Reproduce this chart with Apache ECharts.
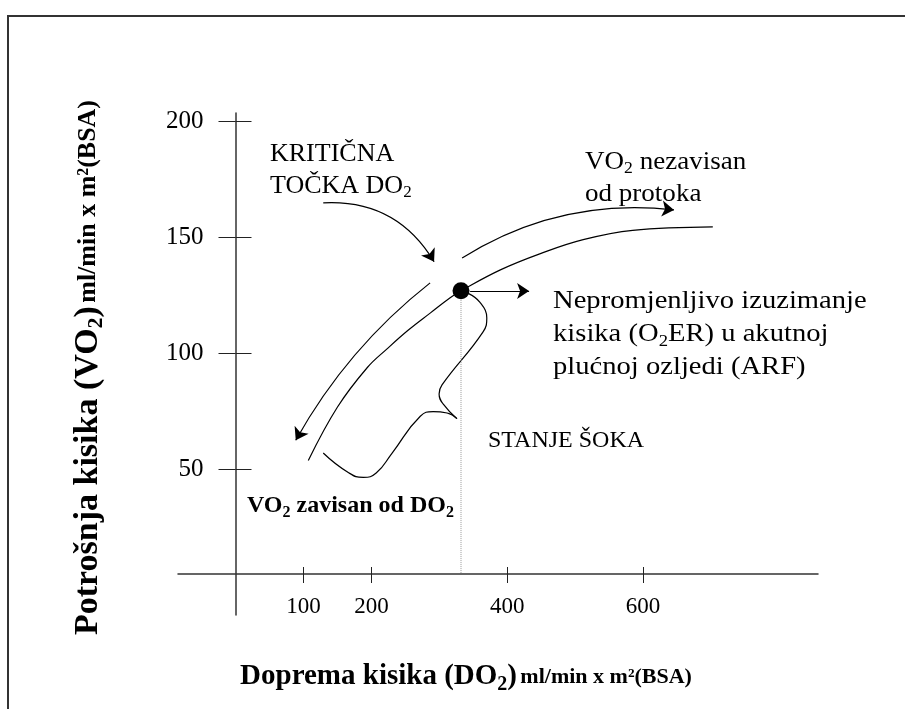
<!DOCTYPE html>
<html>
<head>
<meta charset="utf-8">
<title>Potrošnja i doprema kisika</title>
<script src="https://cdn.jsdelivr.net/npm/echarts@6/dist/echarts.min.js"></script>
<style>
  html, body { margin: 0; padding: 0; background: #fff; }
  #chart { width: 905px; height: 709px; }
</style>
</head>
<body>
<div id="chart"></div>
<script>
// VO2 / DO2 curve
const curveDO2 = [107, 150, 194, 223, 254, 287, 316, 332, 390, 449, 512, 585, 703];
const curveVO2 = [54, 77, 94, 102, 110, 117.5, 124, 127, 136, 143, 149, 153, 154.5];

// critical point (O2ER)
const criticalDO2 = 332;
const criticalVO2 = 127;
const dropVO2 = [123, 5.2];

// "stanje šoka" brace, two halves meeting at the tip
const braceUpperDO2 = [342, 360, 370, 364.5, 304, 299.7, 305.6, 326];
const braceUpperVO2 = [126, 122, 115.3, 109.3, 86.5, 82.6, 78.3, 72];
const braceLowerDO2 = [326, 311.5, 291, 272, 230.5, 207, 188, 167, 129];
const braceLowerVO2 = [72, 74.4, 75, 73, 57.2, 48.6, 46.7, 48.6, 57.2];

// arrows: kritična točka, nezavisan, zavisan, O2ER
const arrowFromDO2 = [129, 333.6, 286.5, 345.4];
const arrowFromVO2 = [164.8, 141.1, 130.4, 126.9];
const arrowToDO2 = [292.3, 645.8, 88.5, 432.3];
const arrowToVO2 = [139.5, 161.8, 62.7, 126.9];
const arrowBend = [0.3, 0.175, -0.1, 0];

// ticks
const xTicks = [100, 200, 400, 600];
const yTicks = [50, 100, 150, 200];

const serif = "'Liberation Serif', 'Times New Roman', serif";

function zip(xs, ys) {
  return xs.map((x, i) => [x, ys[i]]);
}

// rich text token for echarts labels
function tok(size, weight, extra) {
  return Object.assign({ fontFamily: serif, fontSize: size, fontWeight: weight || 'normal', color: '#000' }, extra || {});
}
// rich text token for graphic (zrender) texts
function gtok(size, weight, extra) {
  return Object.assign({ fontFamily: serif, fontSize: size, fontWeight: weight || 'normal', fill: '#000' }, extra || {});
}

const chart = echarts.init(document.getElementById('chart'));

const lineStyle = { color: '#000', width: 1.2 };

const option = {
  animation: false,
  backgroundColor: '#fff',
  grid: { left: 178, right: 87, top: 113, bottom: 94 },
  xAxis: [
    {
      type: 'value',
      min: -85,
      max: 858,
      offset: -41,
      splitLine: { show: false },
      axisLine: { onZero: false, lineStyle: { color: '#333', width: 1.5 } },
      axisTick: { customValues: xTicks, length: 9, lineStyle: { color: '#222' } },
      axisLabel: { customValues: xTicks, margin: 21, fontFamily: serif, fontSize: 23, color: '#000' },
      name: '{b|Doprema kisika (DO}{bs|2}{b|)} {m|ml/min x m²(BSA)}',
      nameLocation: 'middle',
      nameGap: 85,
      nameTextStyle: {
        padding: [0, 64, 0, 0],
        rich: {
          b: tok(29, 'bold'),
          bs: tok(20, 'bold', { padding: [16, 0, 0, 0] }),
          m: tok(22, 'bold')
        }
      }
    },
    {
      type: 'value',
      min: -85,
      max: 858,
      offset: -41,
      position: 'bottom',
      splitLine: { show: false },
      axisLine: { show: false, onZero: false },
      axisTick: { customValues: xTicks, inside: true, length: 7, lineStyle: { color: '#222' } },
      axisLabel: { show: false }
    }
  ],
  yAxis: [
    {
      type: 'value',
      min: -12.5,
      max: 203.5,
      offset: -57.5,
      position: 'left',
      splitLine: { show: false },
      axisLine: { show: true, onZero: false, lineStyle: { color: '#333', width: 1.5 } },
      axisTick: { customValues: yTicks, length: 17, lineStyle: { color: '#222' } },
      axisLabel: { customValues: yTicks, margin: 32, fontFamily: serif, fontSize: 25, color: '#000' },
      name: '{b|Potrošnja kisika (VO}{bs|2}{b|)} {m|ml/min x m²(BSA)}',
      nameLocation: 'middle',
      nameGap: 128,
      nameTextStyle: {
        padding: [0, 7, 0, 0],
        rich: {
          b: tok(34, 'bold'),
          bs: tok(22, 'bold', { padding: [16, 0, 0, 0] }),
          m: tok(26, 'bold')
        }
      }
    },
    {
      type: 'value',
      min: -12.5,
      max: 203.5,
      offset: -57.5,
      position: 'left',
      splitLine: { show: false },
      axisLine: { show: false, onZero: false },
      axisTick: { customValues: yTicks, inside: true, length: 16, lineStyle: { color: '#222' } },
      axisLabel: { show: false }
    }
  ],
  graphic: [
    {
      type: 'rect',
      shape: { x: 8, y: 16, width: 1200, height: 1200 },
      style: { fill: 'none', stroke: '#333', lineWidth: 2 },
      silent: true
    },
    {
      type: 'text', x: 270, y: 138,
      style: {
        text: '{r|KRITIČNA}\n{r|TOČKA DO}{s|2}',
        rich: { r: gtok(26, 'normal', { lineHeight: 32 }), s: gtok(17, 'normal', { padding: [14, 0, 0, 0] }) }
      }
    },
    {
      type: 'text', x: 585, y: 146, scaleX: 1.04,
      style: {
        text: '{r|VO}{s|2}{r| nezavisan}\n{r|od protoka}',
        rich: { r: gtok(26, 'normal', { lineHeight: 32 }), s: gtok(17, 'normal', { padding: [14, 0, 0, 0] }) }
      }
    },
    {
      type: 'text', x: 553, y: 285, scaleX: 1.1,
      style: {
        text: '{r|Nepromjenljivo izuzimanje}\n{r|kisika (O}{s|2}{r|ER) u akutnoj}\n{r|plućnoj ozljedi (ARF)}',
        rich: { r: gtok(26, 'normal', { lineHeight: 33 }), s: gtok(17, 'normal', { padding: [14, 0, 0, 0] }) }
      }
    },
    {
      type: 'text', x: 488, y: 429,
      style: { text: 'STANJE ŠOKA', fontFamily: serif, fontSize: 24, fill: '#000' }
    },
    {
      type: 'text', x: 247, y: 491,
      style: {
        text: '{b|VO}{s|2}{b| zavisan od DO}{s|2}',
        rich: { b: gtok(24, 'bold'), s: gtok(16, 'bold', { padding: [14, 0, 0, 0] }) }
      }
    }
  ],
  series: [
    {
      name: 'VO2/DO2',
      type: 'line',
      data: zip(curveDO2, curveVO2),
      smooth: 0.4,
      showSymbol: false,
      lineStyle: lineStyle
    },
    {
      name: 'šok gornji',
      type: 'line',
      data: zip(braceUpperDO2, braceUpperVO2),
      smooth: 0.45,
      showSymbol: false,
      lineStyle: lineStyle
    },
    {
      name: 'šok donji',
      type: 'line',
      data: zip(braceLowerDO2, braceLowerVO2),
      smooth: 0.5,
      showSymbol: false,
      lineStyle: lineStyle
    },
    {
      name: 'DO2 kritično',
      type: 'line',
      data: dropVO2.map((v) => [criticalDO2, v]),
      showSymbol: false,
      lineStyle: { color: '#999', width: 1, type: 'dotted' }
    },
    {
      name: 'strelice',
      type: 'lines',
      coordinateSystem: 'cartesian2d',
      symbol: ['none', 'arrow'],
      symbolSize: 12,
      lineStyle: { color: '#000', width: 1.2, opacity: 1 },
      itemStyle: { color: '#000', opacity: 1 },
      data: arrowFromDO2.map((x, i) => ({
        coords: [[x, arrowFromVO2[i]], [arrowToDO2[i], arrowToVO2[i]]],
        lineStyle: { curveness: arrowBend[i] }
      }))
    },
    {
      name: 'kritična točka',
      type: 'scatter',
      data: [[criticalDO2, criticalVO2]],
      symbolSize: 17,
      itemStyle: { color: '#000', opacity: 1 },
      z: 5
    }
  ]
};

chart.setOption(option);
</script>
</body>
</html>
